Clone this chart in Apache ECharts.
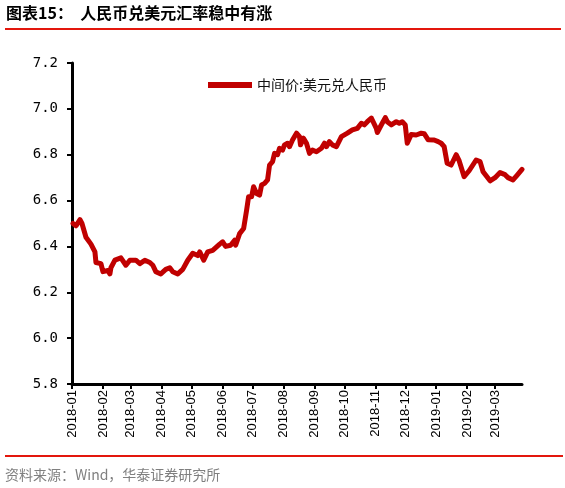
<!DOCTYPE html>
<html>
<head>
<meta charset="utf-8">
<script src="https://cdn.jsdelivr.net/npm/echarts@6/dist/echarts.min.js"></script>
<style>
html,body{margin:0;padding:0;background:#fff;}
#chart{width:565px;height:488px;}
</style>
</head>
<body>
<div id="chart"></div>
<script>
// ---- data ----
const titleText = '图表15：  人民币兑美元汇率稳中有涨';
const sourceText = '资料来源：Wind，华泰证券研究所';
const seriesName = '中间价:美元兑人民币';

const dates = [
  '2018-01-02','2018-01-05','2018-01-09','2018-01-11','2018-01-15','2018-01-20','2018-01-24','2018-01-25','2018-01-30',
  '2018-02-01','2018-02-06','2018-02-08','2018-02-09','2018-02-13','2018-02-19','2018-02-24','2018-02-28',
  '2018-03-06','2018-03-10','2018-03-15','2018-03-20','2018-03-23','2018-03-26','2018-03-31',
  '2018-04-05','2018-04-09','2018-04-12','2018-04-17','2018-04-22','2018-04-27',
  '2018-05-02','2018-05-07','2018-05-09','2018-05-13','2018-05-17','2018-05-22','2018-05-29',
  '2018-06-01','2018-06-04','2018-06-09','2018-06-13','2018-06-14','2018-06-18','2018-06-22','2018-06-25','2018-06-27','2018-06-30',
  '2018-07-02','2018-07-05','2018-07-08','2018-07-10','2018-07-13','2018-07-16','2018-07-18','2018-07-21','2018-07-23','2018-07-26','2018-07-28','2018-07-31',
  '2018-08-02','2018-08-05','2018-08-07','2018-08-10','2018-08-14','2018-08-17','2018-08-18','2018-08-21','2018-08-24','2018-08-27','2018-08-30',
  '2018-09-03','2018-09-08','2018-09-11','2018-09-13','2018-09-16','2018-09-19','2018-09-23','2018-09-28',
  '2018-10-04','2018-10-09','2018-10-14','2018-10-18','2018-10-21','2018-10-24','2018-10-28','2018-10-30',
  '2018-11-02','2018-11-03','2018-11-06','2018-11-11','2018-11-13','2018-11-17','2018-11-22','2018-11-25','2018-11-28',
  '2018-12-01','2018-12-03','2018-12-07','2018-12-12','2018-12-17','2018-12-20','2018-12-24','2018-12-30',
  '2019-01-03','2019-01-06','2019-01-09','2019-01-12','2019-01-16','2019-01-21','2019-01-24','2019-01-29',
  '2019-02-03','2019-02-10','2019-02-14','2019-02-17','2019-02-24',
  '2019-03-01','2019-03-06','2019-03-11','2019-03-14','2019-03-19','2019-03-23','2019-03-28'
];
const rates = [
  6.500,6.490,6.517,6.500,6.440,6.410,6.376,6.330,6.325,
  6.290,6.295,6.280,6.307,6.340,6.350,6.318,6.340,
  6.340,6.325,6.340,6.330,6.318,6.290,6.280,
  6.300,6.307,6.290,6.280,6.300,6.340,
  6.370,6.360,6.376,6.340,6.376,6.383,6.410,
  6.420,6.400,6.405,6.427,6.405,6.456,6.478,6.558,6.617,6.617,
  6.660,6.631,6.624,6.668,6.675,6.690,6.755,6.770,6.806,6.800,6.828,6.820,
  6.843,6.850,6.835,6.864,6.894,6.879,6.843,6.872,6.850,6.806,6.820,
  6.813,6.828,6.850,6.835,6.857,6.843,6.835,6.879,
  6.894,6.908,6.915,6.937,6.930,6.944,6.960,6.966,
  6.915,6.897,6.922,6.962,6.944,6.930,6.944,6.937,6.944,
  6.930,6.850,6.888,6.886,6.894,6.892,6.865,6.864,
  6.857,6.850,6.835,6.763,6.755,6.800,6.774,6.704,
  6.730,6.777,6.770,6.726,6.686,
  6.700,6.722,6.713,6.700,6.690,6.710,6.736
];
const monthTicks = [
  '2018-01-01','2018-02-01','2018-03-01','2018-04-01','2018-05-01','2018-06-01','2018-07-01',
  '2018-08-01','2018-09-01','2018-10-01','2018-11-01','2018-12-01','2019-01-01','2019-02-01','2019-03-01'
];
const xMin = '2018-01-01';
const xMax = '2019-03-28';
const yMin = 5.8, yMax = 7.2, yStep = 0.2;

// ---- chart ----
function parseLocal(s) {
  const p = s.split('-').map(Number);
  return new Date(p[0], p[1] - 1, p[2]).getTime();
}
function fmtMonth(v) {
  const d = new Date(v);
  const m = d.getMonth() + 1;
  return d.getFullYear() + '-' + (m < 10 ? '0' + m : '' + m);
}
const tickValues = monthTicks.map(parseLocal);
const seriesData = dates.map((d, i) => [parseLocal(d), rates[i]]);

const chart = echarts.init(document.getElementById('chart'), null, {renderer: 'canvas'});
const option = {
  animation: false,
  backgroundColor: '#ffffff',
  grid: {left: 72, right: 43, top: 63, bottom: 104, containLabel: false},
  legend: {
    data: [seriesName],
    left: 203,
    top: 73,
    icon: 'rect',
    itemWidth: 44,
    itemHeight: 6,
    itemGap: 5,
    textStyle: {fontFamily: 'Noto Sans CJK SC', fontSize: 14, color: '#111111'}
  },
  xAxis: {
    type: 'value',
    min: parseLocal(xMin),
    max: parseLocal(xMax),
    splitLine: {show: false},
    axisLine: {show: true, onZero: false, lineStyle: {color: '#000', width: 3}},
    axisTick: {show: true, customValues: tickValues, length: 5, lineStyle: {color: '#000', width: 2}},
    axisLabel: {
      customValues: tickValues,
      rotate: 90,
      margin: 6,
      fontFamily: 'Liberation Sans',
      fontSize: 13,
      color: '#000',
      formatter: fmtMonth
    }
  },
  yAxis: {
    type: 'value',
    min: yMin,
    max: yMax,
    interval: yStep,
    splitLine: {show: false},
    axisLine: {show: true, lineStyle: {color: '#000', width: 3}},
    axisTick: {show: true, inside: false, length: 5, lineStyle: {color: '#000', width: 2}},
    axisLabel: {
      margin: 14,
      fontFamily: 'DejaVu Sans Mono',
      fontSize: 14,
      color: '#000',
      formatter: function (v) { return v.toFixed(1); }
    }
  },
  series: [{
    name: seriesName,
    type: 'line',
    data: seriesData,
    showSymbol: false,
    symbol: 'none',
    lineStyle: {color: '#c00000', width: 5, join: 'round', cap: 'round'},
    itemStyle: {color: '#c00000'}
  }],
  graphic: [
    {type: 'text', left: 6, top: 5, style: {text: titleText, font: 'bold 16px "Noto Sans CJK SC"', fill: '#000'}},
    {type: 'line', shape: {x1: 5, y1: 29, x2: 561, y2: 29}, style: {stroke: '#e3170d', lineWidth: 2}},
    {type: 'line', shape: {x1: 5, y1: 456, x2: 563, y2: 456}, style: {stroke: '#e3170d', lineWidth: 2}},
    {type: 'text', left: 5, top: 468, style: {text: sourceText, font: '14px "Noto Sans CJK SC"', fill: '#7f7f7f'}}
  ]
};
chart.setOption(option);
</script>
</body>
</html>
